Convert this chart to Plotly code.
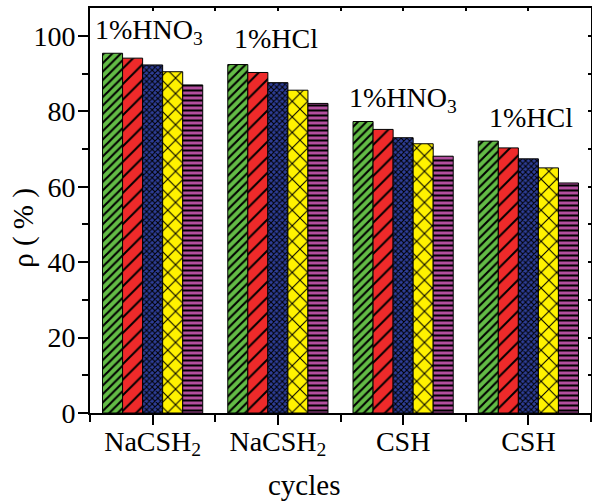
import plotly.graph_objects as go

# Sample groups (x positions 0..3) and their tick labels
group_labels = ["NaCSH<sub>2</sub>", "NaCSH<sub>2</sub>", "CSH", "CSH"]
acid_labels = ["1%HNO<sub>3</sub>", "1%HCl", "1%HNO<sub>3</sub>", "1%HCl"]

# Removal ratio rho (%) for cycles 1-5 in each group
cycle_names = ["1", "2", "3", "4", "5"]
cycle1 = [95.4, 92.4, 77.3, 72.1]
cycle2 = [94.1, 90.3, 75.2, 70.3]
cycle3 = [92.3, 87.6, 73.0, 67.4]
cycle4 = [90.5, 85.6, 71.4, 65.0]
cycle5 = [87.0, 82.1, 68.1, 61.0]
series = [cycle1, cycle2, cycle3, cycle4, cycle5]

colors = ["#63BC46", "#EE2A2A", "#2E3E98", "#FFF200", "#B24E9E"]
patterns = [
    dict(shape="/", size=6, solidity=0.35),
    dict(shape="/", size=11, solidity=0.18),
    dict(shape="x", size=4, solidity=0.45),
    dict(shape="x", size=11, solidity=0.18),
    dict(shape="-", size=5, solidity=0.4),
]

x_pos = list(range(len(group_labels)))
font_family = "Liberation Serif, Times New Roman, serif"

fig = go.Figure()
for name, vals, col, pat in zip(cycle_names, series, colors, patterns):
    fig.add_trace(go.Bar(
        x=x_pos, y=vals, name=name,
        marker=dict(
            color=col,
            line=dict(color="black", width=1),
            pattern=dict(fgcolor="black", bgcolor=col, fillmode="replace", **pat),
        ),
    ))

# Acid labels above each group
label_offsets = [0.6, 2.4, 0.6, 1.6]
label_shifts = [-0.03, -0.016, 0.0, 0.02]
for xi, txt, top, off, dx in zip(x_pos, acid_labels, cycle1, label_offsets, label_shifts):
    fig.add_annotation(
        x=xi + dx, y=top + off, text=txt, showarrow=False,
        xanchor="center", yanchor="bottom",
        font=dict(family=font_family, size=28, color="black"),
    )

# Axis titles
fig.add_annotation(
    x=0.428, y=0, xref="paper", yref="paper", yshift=-90,
    text="cycles", showarrow=False, xanchor="center", yanchor="bottom",
    font=dict(family=font_family, size=29, color="black"),
)
fig.add_annotation(
    x=-0.132, y=0.457, xref="paper", yref="paper", textangle=-90,
    text="ρ ( % )", showarrow=False, xanchor="center", yanchor="middle",
    font=dict(family=font_family, size=29, color="black"),
)

axis_common = dict(
    showline=True, linecolor="black", linewidth=2,
    ticks="outside", tickcolor="black", tickwidth=2, showgrid=False,
    zeroline=False,
    tickfont=dict(family=font_family, size=28, color="black"),
)

fig.update_layout(
    width=592, height=504,
    margin=dict(l=90, r=1, t=8, b=91),
    paper_bgcolor="white", plot_bgcolor="white",
    barmode="group", bargap=0.2, bargroupgap=0,
    showlegend=False,
    xaxis=dict(
        range=[-0.5, 3.5], tickmode="array", tickvals=x_pos, ticktext=group_labels,
        ticklen=10, ticklabelstandoff=-8,
        minor=dict(tickmode="array", tickvals=[-0.5, 0.5, 1.5, 2.5, 3.5],
                   ticks="outside", ticklen=7, tickwidth=2, tickcolor="black"),
        **axis_common,
    ),
    yaxis=dict(
        range=[0, 107.4], tick0=0, dtick=20, ticklen=10, ticklabelstandoff=-3,
        minor=dict(dtick=10, ticks="outside", ticklen=6, tickwidth=2, tickcolor="black"),
        **axis_common,
    ),
    # Frame on top and right with short inward ticks
    xaxis2=dict(
        matches="x", overlaying="x", side="top", showline=True, linecolor="black",
        linewidth=2, ticks="inside", ticklen=3, tickwidth=2, tickcolor="black",
        tickmode="array", tickvals=[-0.5, 0, 0.5, 1, 1.5, 2, 2.5, 3, 3.5],
        showticklabels=False, showgrid=False, zeroline=False,
    ),
    yaxis2=dict(
        matches="y", overlaying="y", side="right", showline=True, linecolor="black",
        linewidth=2, ticks="inside", ticklen=3, tickwidth=2, tickcolor="black",
        tick0=0, dtick=10, showticklabels=False, showgrid=False, zeroline=False,
    ),
)

# Invisible trace to bring the top/right frame axes into the figure
fig.add_trace(go.Scatter(x=[0], y=[0], xaxis="x2", yaxis="y2", mode="markers",
                         marker=dict(opacity=0), hoverinfo="skip", showlegend=False))

fig.write_html("out.html")
